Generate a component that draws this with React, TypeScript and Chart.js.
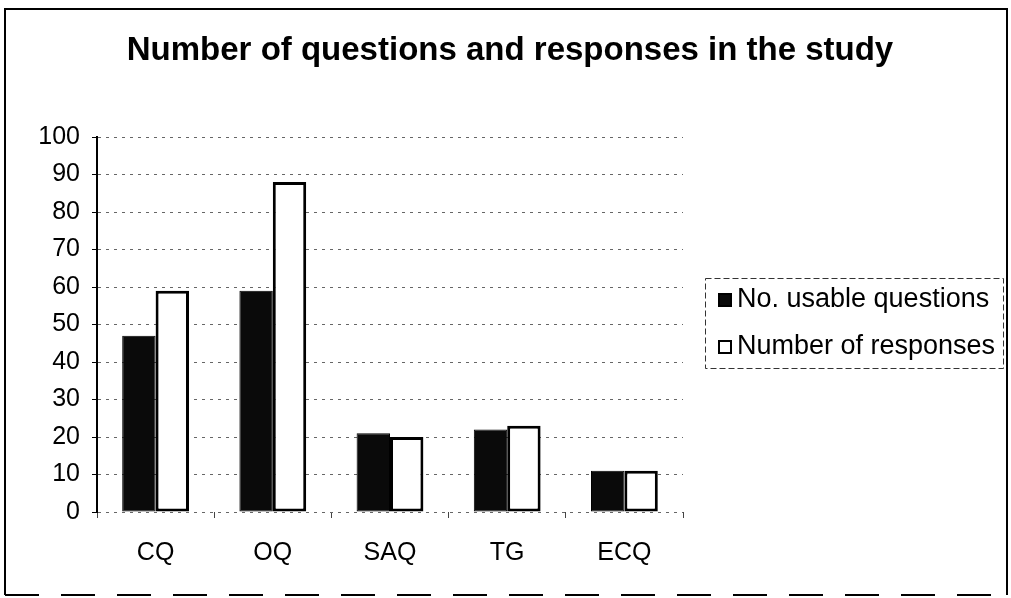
import React, { useEffect, useRef } from "react";
import { Chart, registerables } from "chart.js";

Chart.register(...registerables);

const titleText = "Number of questions and responses in the study";
const categories = ["CQ", "OQ", "SAQ", "TG", "ECQ"];
const seriesNames = ["No. usable questions", "Number of responses"];
const usableQuestions = [47, 59, 21, 22, 11];
const responses = [59, 88, 20, 23, 11];
const yTicks = [0, 10, 20, 30, 40, 50, 60, 70, 80, 90, 100];

const FONT = "'Liberation Sans', Arial, sans-serif";

const decorPlugin = {
  id: "decor",
  afterDraw(chart: any) {
    const ctx = chart.ctx;
    ctx.save();
    // outer frame
    ctx.strokeStyle = "#000";
    ctx.lineWidth = 2;
    ctx.setLineDash([]);
    ctx.beginPath();
    ctx.moveTo(5, 595);
    ctx.lineTo(5, 9);
    ctx.lineTo(1007, 9);
    ctx.lineTo(1007, 595);
    ctx.stroke();
    ctx.setLineDash([34, 22]);
    ctx.beginPath();
    ctx.moveTo(5, 595);
    ctx.lineTo(1007, 595);
    ctx.stroke();

    // title
    ctx.setLineDash([]);
    ctx.fillStyle = "#000";
    ctx.font = `bold 33px ${FONT}`;
    ctx.textAlign = "center";
    ctx.textBaseline = "middle";
    ctx.fillText(titleText, 510, 51);

    // legend box
    ctx.strokeStyle = "#333";
    ctx.lineWidth = 1;
    ctx.setLineDash([6, 3]);
    ctx.strokeRect(705.5, 278.5, 298, 90);
    ctx.setLineDash([]);

    const ys = [300, 347];
    const ds = chart.data.datasets;
    ds.forEach((d: any, i: number) => {
      const y = ys[i];
      ctx.fillStyle = d.backgroundColor;
      ctx.fillRect(719, y - 6, 12, 12);
      ctx.strokeStyle = "#000";
      ctx.lineWidth = 2;
      ctx.strokeRect(719, y - 6, 12, 12);
      ctx.fillStyle = "#000";
      ctx.font = `27px ${FONT}`;
      ctx.textAlign = "left";
      ctx.textBaseline = "middle";
      ctx.fillText(d.label, 737, y);
    });
    ctx.restore();
  },
};

export default function App() {
  const ref = useRef<HTMLCanvasElement>(null);

  useEffect(() => {
    if (!ref.current) return;
    const chart = new Chart(ref.current, {
      type: "bar",
      data: {
        labels: categories,
        datasets: [
          {
            label: seriesNames[0],
            data: usableQuestions,
            backgroundColor: "#0a0a0a",
            borderColor: "#000000",
            borderWidth: 1,
            borderSkipped: false,
            categoryPercentage: 0.57,
            barPercentage: 1,
          },
          {
            label: seriesNames[1],
            data: responses,
            backgroundColor: "#ffffff",
            borderColor: "#000000",
            borderWidth: 3,
            borderSkipped: false,
            categoryPercentage: 0.57,
            barPercentage: 1,
          },
        ],
      },
      options: {
        animation: false,
        responsive: false,
        maintainAspectRatio: false,
        layout: { padding: { top: 137, right: 328, bottom: 0, left: 0 } },
        plugins: {
          legend: { display: false },
          title: { display: false },
          tooltip: { enabled: false },
        },
        scales: {
          x: {
            grid: {
              display: true,
              drawOnChartArea: false,
              drawTicks: true,
              tickLength: 6,
              tickColor: "#444",
              tickWidth: 1,
            },
            border: { display: false },
            ticks: {
              color: "#000",
              padding: 20,
              font: { family: FONT, size: 25 },
            },
            afterFit(scale: any) {
              scale.height = 86;
            },
          },
          y: {
            min: 0,
            max: 100,
            afterBuildTicks(scale: any) {
              scale.ticks = yTicks.map((v) => ({ value: v }));
            },
            grid: {
              color: "#666",
              lineWidth: 1,
              drawTicks: true,
              tickLength: 5,
              tickColor: "#000",
              tickWidth: 1,
              tickBorderDash: [],
            },
            border: { display: true, color: "#000", width: 2, dash: [3, 5] },
            ticks: {
              color: "#000",
              padding: 12,
              font: { family: FONT, size: 25 },
            },
            afterFit(scale: any) {
              scale.width = 97;
            },
          },
        },
      },
      plugins: [decorPlugin],
    } as any);
    return () => chart.destroy();
  }, []);

  return (
    <div style={{ position: "fixed", left: 0, top: 0, width: 1011, height: 598, background: "#fff" }}>
      <canvas ref={ref} width={1011} height={598} style={{ width: 1011, height: 598, display: "block" }} />
    </div>
  );
}
